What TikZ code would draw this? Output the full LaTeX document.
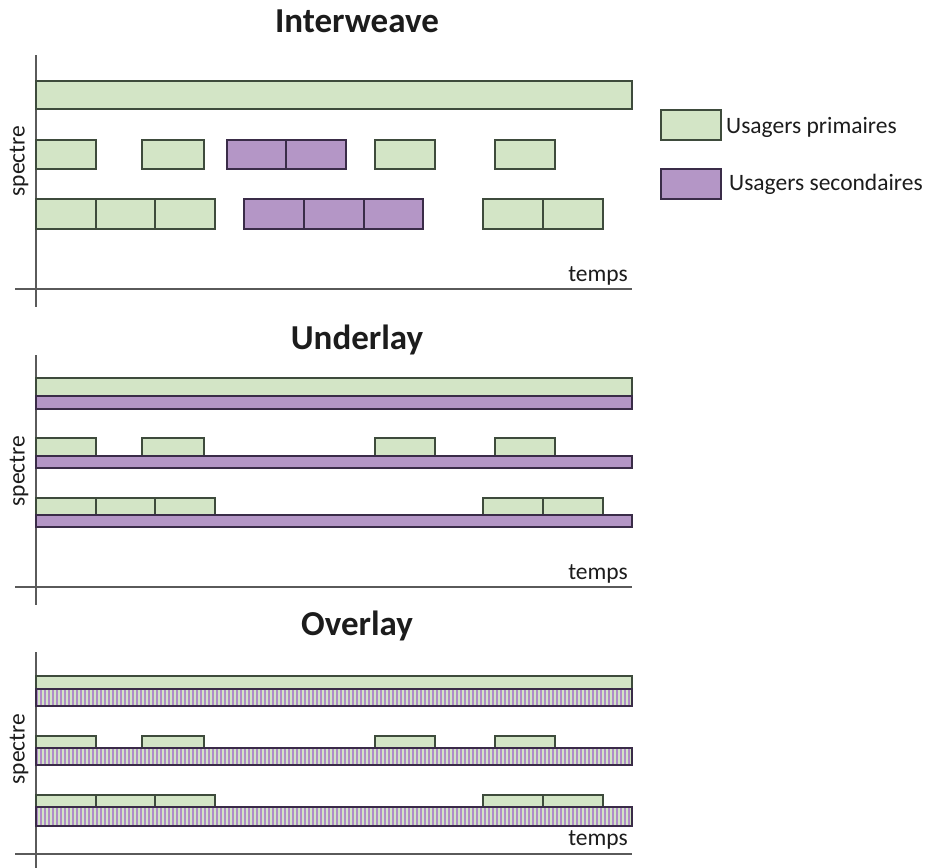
\documentclass[tikz,border=0pt]{standalone}
\usepackage{fontspec}
\setmainfont{Carlito}
\definecolor{primfill}{HTML}{D3E5C6}
\definecolor{primline}{HTML}{3E4B3C}
\definecolor{secfill}{HTML}{B496C6}
\definecolor{secline}{HTML}{3A2C48}
\definecolor{stripe}{HTML}{B08CC8}
\definecolor{axisgray}{HTML}{5A5A5A}
\definecolor{ink}{HTML}{1C1C1C}

% full-width bar filled with purple/green vertical stripes
\newcommand\stripebar[2]{%
  \begin{scope}
    \clip (36,#1) rectangle (632,#2);
    \fill[primfill] (36,#1) rectangle (632,#2);
    \foreach \s in {37,41,...,632}
      \draw[stripe,line width=2.2pt] (\s,#1) -- (\s,#2);
  \end{scope}
  \draw[draw=secline,line width=1.2pt] (36,#1) rectangle (632,#2);
}

\begin{document}
\begin{tikzpicture}[x=1pt,y=-1pt,
  prim/.style={fill=primfill,draw=primline,line width=1.2pt},
  sec/.style={fill=secfill,draw=secline,line width=1.2pt},
  axisline/.style={draw=axisgray,line width=1.4pt},
  title/.style={font=\fontsize{35}{35}\selectfont\bfseries,text=ink,anchor=base,inner sep=0pt},
  lab/.style={font=\fontsize{23.5}{23.5}\selectfont,text=ink,inner sep=0pt}]
\useasboundingbox (0,0) rectangle (930,868);

% ---------------- Interweave ----------------
\node[title] (t1) at (357,32) {Interweave};
\draw[axisline] (36,55) -- (36,307);
\draw[axisline] (15,289) -- (632,289);
\node[lab,anchor=base east] (temps1) at (628,281) {temps};
\node[lab,rotate=90] (sp1) at (19,161) {spectre};
\draw[prim] (36,81) rectangle (632,109);
\foreach \a/\b in {36/96,142/204,375/435,495/555}
  \draw[prim] (\a,140) rectangle (\b,169);
\foreach \a/\b in {227/286,286/346}
  \draw[sec] (\a,140) rectangle (\b,169);
\foreach \a/\b in {36/96,96/155,155/215,483/543,543/603}
  \draw[prim] (\a,199) rectangle (\b,229);
\foreach \a/\b in {244/304,304/364,364/423}
  \draw[sec] (\a,199) rectangle (\b,229);

% legend
\draw[prim,line width=1.6pt] (661,110) rectangle (721,140);
\node[lab,anchor=base west] (lg1) at (726,133) {Usagers primaires};
\draw[sec,line width=1.6pt] (661,169) rectangle (721,199);
\node[lab,anchor=base west] (lg2) at (729,190) {Usagers secondaires};

% ---------------- Underlay ----------------
\node[title] (t2) at (357,349) {Underlay};
\draw[axisline] (36,355) -- (36,605);
\draw[axisline] (15,587) -- (632,587);
\node[lab,anchor=base east] (temps2) at (628,579) {temps};
\node[lab,rotate=90] (sp2) at (19,471) {spectre};
\draw[prim] (36,378) rectangle (632,396);
\draw[sec] (36,396) rectangle (632,409);
\foreach \a/\b in {36/96,142/204,375/435,495/555}
  \draw[prim] (\a,438) rectangle (\b,456);
\draw[sec] (36,456) rectangle (632,468);
\foreach \a/\b in {36/96,96/155,155/215,483/543,543/603}
  \draw[prim] (\a,498) rectangle (\b,515);
\draw[sec] (36,515) rectangle (632,527);

% ---------------- Overlay ----------------
\node[title] (t3) at (357,635) {Overlay};
\draw[axisline] (36,652) -- (36,868);
\draw[axisline] (15,854) -- (632,854);
\node[lab,anchor=base east] (temps3) at (628,845) {temps};
\node[lab,rotate=90] (sp3) at (19,749) {spectre};
\draw[prim] (36,676) rectangle (632,689);
\stripebar{689}{706}
\foreach \a/\b in {36/96,142/204,375/435,495/555}
  \draw[prim] (\a,736) rectangle (\b,748);
\stripebar{748}{765}
\foreach \a/\b in {36/96,96/155,155/215,483/543,543/603}
  \draw[prim] (\a,795) rectangle (\b,807);
\stripebar{807}{826}
\end{tikzpicture}
\end{document}
